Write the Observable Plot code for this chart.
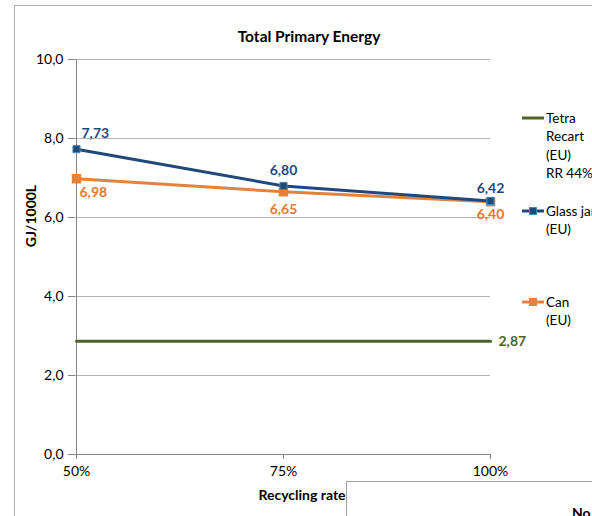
<!DOCTYPE html>
<html>
<head>
<meta charset="utf-8">
<script src="https://cdn.jsdelivr.net/npm/d3@7"></script>
<script src="https://cdn.jsdelivr.net/npm/@observablehq/plot@0.6"></script>
<style>
  html, body { margin: 0; padding: 0; background: white; overflow: hidden; }
  #chart { width: 592px; height: 516px; overflow: hidden; }
  #chart svg { font-family: Lato, "Open Sans", sans-serif; }
  #chart svg text { font-size: 14px !important; }
  #chart svg text.ttl { font-size: 15.5px !important; }
  #chart svg text.leg { font-size: 13.5px !important; }
</style>
</head>
<body>
<div id="chart"></div>
<script>
const rates = ["50%", "75%", "100%"];
const glassJar = [7.73, 6.80, 6.42];
const can = [6.98, 6.65, 6.40];
const tetraRecart = [2.87, 2.87, 2.87];
const yTicks = [0, 2, 4, 6, 8, 10];
const title = "Total Primary Energy";
const xTitle = "Recycling rate";
const yTitle = "GJ/1000L";
const legendTetra = ["Tetra", "Recart", "(EU)", "RR 44%"];
const legendGlass = ["Glass jar", "(EU)"];
const legendCan = ["Can", "(EU)"];

const C_GLASS = "#1F497D";
const C_CAN = "#E3823A";
const C_CAN_TXT = "#E8772E";
const C_TETRA = "#4F6228";

const fmt = d => d.toFixed(2).replace(".", ",");
const fmt1 = d => d.toFixed(1).replace(".", ",");

const mk = vals => rates.map((r, i) => ({rate: r, value: vals[i], i}));
const g = mk(glassJar), c = mk(can), t = mk(tetraRecart);

const font = {fontSize: 14, fontWeight: "bold"};

const plot = Plot.plot({
  width: 592,
  height: 516,
  marginLeft: 75,
  marginRight: 102,
  marginTop: 59,
  marginBottom: 62,
  style: {fontFamily: "Lato, 'Open Sans', sans-serif", fontSize: "14px", background: "white", overflow: "hidden"},
  x: {type: "point", domain: rates, padding: 0, label: null},
  y: {domain: [0, 10], label: null},
  marks: [
    Plot.ruleY(yTicks.filter(d => d > 0), {stroke: "#b3b3b3", strokeWidth: 1}),
    Plot.axisY({ticks: yTicks, tickFormat: () => "", tickSize: 7, stroke: "#868686"}),
    Plot.axisX({tickSize: 5, tickFormat: () => "", stroke: "#868686"}),
    // tick labels, placed with the plot's own scales
    Plot.text(yTicks, {y: d => d, frameAnchor: "left", text: fmt1, textAnchor: "end", lineAnchor: "middle", dx: -12, fill: "#000", fontSize: 14}),
    Plot.text(rates, {x: d => d, frameAnchor: "bottom", text: d => d, lineAnchor: "middle", textAnchor: "middle", dy: 17, fill: "#000", fontSize: 14}),
    Plot.ruleX([rates[0]], {stroke: "#868686"}),
    Plot.ruleY([0], {stroke: "#868686"}),
    // Tetra Recart
    Plot.line(t, {x: "rate", y: "value", stroke: C_TETRA, strokeWidth: 3}),
    Plot.text(t.filter(d => d.i === 2), {x: "rate", y: "value", text: d => fmt(d.value), fill: C_TETRA, textAnchor: "start", dx: 8, ...font}),
    // Can
    Plot.line(c, {x: "rate", y: "value", stroke: C_CAN, strokeWidth: 3}),
    Plot.dot(c, {x: "rate", y: "value", symbol: "square", r: 4.5, fill: C_CAN, stroke: C_CAN}),
    Plot.text(c.filter(d => d.i === 0), {x: "rate", y: "value", text: d => fmt(d.value), fill: C_CAN_TXT, textAnchor: "start", dx: 3, dy: 14, ...font}),
    Plot.text(c.filter(d => d.i === 1), {x: "rate", y: "value", text: d => fmt(d.value), fill: C_CAN_TXT, dy: 18, ...font}),
    Plot.text(c.filter(d => d.i === 2), {x: "rate", y: "value", text: d => fmt(d.value), fill: C_CAN_TXT, dy: 13, ...font}),
    // Glass jar
    Plot.line(g, {x: "rate", y: "value", stroke: C_GLASS, strokeWidth: 3}),
    Plot.dot(g, {x: "rate", y: "value", symbol: "square", r: 4, fill: C_GLASS, stroke: "#3C8DAE", strokeWidth: 1}),
    Plot.text(g.filter(d => d.i === 0), {x: "rate", y: "value", text: d => fmt(d.value), fill: C_GLASS, textAnchor: "start", dx: 5, dy: -16, ...font}),
    Plot.text(g.filter(d => d.i === 1), {x: "rate", y: "value", text: d => fmt(d.value), fill: C_GLASS, dy: -15, ...font}),
    Plot.text(g.filter(d => d.i === 2), {x: "rate", y: "value", text: d => fmt(d.value), fill: C_GLASS, dy: -12, ...font})
  ]
});

const svg = d3.select(plot);
// outer chart border
svg.insert("rect", ":first-child").attr("x", 14.5).attr("y", 5.5).attr("width", 800).attr("height", 800)
  .attr("fill", "white").attr("stroke", "#b0b0b0");
// title and axis titles
svg.append("text").attr("class", "ttl").attr("x", 309).attr("y", 42).attr("text-anchor", "middle")
  .attr("font-weight", "bold").text(title);
svg.append("text").attr("x", 302).attr("y", 500).attr("text-anchor", "middle")
  .attr("font-weight", "bold").text(xTitle);
svg.append("text").attr("transform", "translate(36,216) rotate(-90)").attr("text-anchor", "middle")
  .attr("font-weight", "bold").text(yTitle);

// legend
function legendItem(y0, color, lines, marker) {
  svg.append("line").attr("x1", 522).attr("x2", 544).attr("y1", y0).attr("y2", y0)
    .attr("stroke", color).attr("stroke-width", 3);
  if (marker) {
    svg.append("rect").attr("x", 529.5).attr("y", y0 - 3.5).attr("width", 7).attr("height", 7)
      .attr("fill", color).attr("stroke", marker);
  }
  lines.forEach((s, k) => {
    svg.append("text").attr("class", "leg").attr("x", 546).attr("y", y0 + 5 + k * 18.3).attr("text-anchor", "start")
      .attr("fill", "#000").text(s);
  });
}
legendItem(118, C_TETRA, legendTetra, null);
legendItem(211, C_GLASS, legendGlass, "#3C8DAE");
legendItem(302, C_CAN, legendCan, C_CAN);

// overlapping second chart box at the bottom right
svg.append("rect").attr("x", 346.5).attr("y", 481.5).attr("width", 400).attr("height", 100)
  .attr("fill", "white").attr("stroke", "#a0a0a0");
svg.append("text").attr("x", 572).attr("y", 518).attr("text-anchor", "start")
  .attr("font-weight", "bold").text("No");

document.getElementById("chart").appendChild(plot);
</script>
</body>
</html>
